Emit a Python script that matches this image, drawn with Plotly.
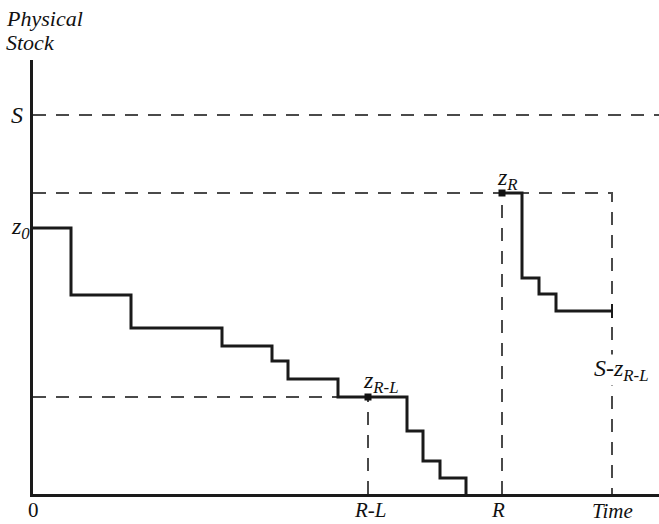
import plotly.graph_objects as go

# ---- data (time units from origin, stock units above the time axis) ----
TIME_A = [0, 38, 98, 189, 239, 255, 305, 374, 390, 407, 433]
STOCK_A = [266, 199, 166, 148, 133, 115, 97, 63, 33, 16, 0]
TIME_B = [469, 489, 506, 523, 579]
STOCK_B = [301, 216, 200, 183, 183]

S_LEVEL = 379
Z_R = 301
Z_RL = 97
T_RL = 335
T_R = 469
T_END = 579
X_MAX = 626
Y_MAX = 434

DASH_COLOR = "#4a4a4a"
LINE_COLOR = "#1a1a1a"
DASH = "13px,10px"
FONT = "'Liberation Serif', 'Times New Roman', Times, serif"

fig = go.Figure()

def dashed(xs, ys):
    fig.add_trace(go.Scatter(x=xs, y=ys, mode="lines", hoverinfo="skip",
                             line=dict(color=DASH_COLOR, width=2, dash=DASH),
                             showlegend=False, cliponaxis=False))

# dashed guide lines
dashed([0, X_MAX], [S_LEVEL, S_LEVEL])
dashed([0, T_END, T_END], [Z_R, Z_R, 0])
dashed([0, T_RL], [Z_RL, Z_RL])
dashed([T_RL, T_RL], [0, Z_RL])
dashed([T_R, T_R], [0, Z_R])

# stock step lines
fig.add_trace(go.Scatter(x=TIME_A, y=STOCK_A, mode="lines", line_shape="hv",
                         line=dict(color=LINE_COLOR, width=3), showlegend=False,
                         hoverinfo="skip", cliponaxis=False))
fig.add_trace(go.Scatter(x=TIME_B, y=STOCK_B, mode="lines", line_shape="hv",
                         line=dict(color=LINE_COLOR, width=3), showlegend=False,
                         hoverinfo="skip", cliponaxis=False))
# end tick
fig.add_trace(go.Scatter(x=[T_END, T_END], y=[STOCK_B[-1] - 7, STOCK_B[-1] + 7],
                         mode="lines", line=dict(color=LINE_COLOR, width=2),
                         showlegend=False, hoverinfo="skip"))
# markers
fig.add_trace(go.Scatter(x=[T_RL, T_R], y=[Z_RL, Z_R], mode="markers",
                         marker=dict(symbol="square", size=7, color="#111111"),
                         showlegend=False, hoverinfo="skip", cliponaxis=False))

def label(text, x, y, size=20, xanchor="center", yanchor="middle", bg=None):
    # positions given in data units, placed via paper coordinates so that
    # labels outside the axis ranges stay visible
    fig.add_annotation(x=x / X_MAX, y=y / Y_MAX, xref="paper", yref="paper",
                       text=text, showarrow=False,
                       xanchor=xanchor, yanchor=yanchor,
                       font=dict(family=FONT, size=size, color="#111111"),
                       bgcolor=bg, borderpad=0)

label("<i>Physical</i>", -28, 476, size=22, xanchor="left")
label("<i>Stock</i>", -28, 452, size=22, xanchor="left")
label("<i>S</i>", -9, S_LEVEL, size=24, xanchor="right")
label("<i>z<sub>0</sub></i>", -2, 266, size=24, xanchor="right")
label("<i>z<sub>R</sub></i>", 474, 315, size=24)
label("<i>z<sub>R-L</sub></i>", 348, 112, size=24)
label("<i>S-z<sub>R-L</sub></i>", 588, 124, size=24, bg="white")
label("0", 0, -29, size=21, yanchor="bottom")
label("<i>R-L</i>", 337, -29, size=21, yanchor="bottom")
label("<i>R</i>", 465, -29, size=21, yanchor="bottom")
label("<i>Time</i>", 579, -30, size=21, yanchor="bottom")

fig.update_layout(
    width=659, height=524,
    margin=dict(l=33, r=0, t=60, b=30),
    paper_bgcolor="white", plot_bgcolor="white",
    hovermode=False,
    xaxis=dict(range=[0, X_MAX], showgrid=False, zeroline=False, showticklabels=False,
               ticks="", showline=True, linecolor=LINE_COLOR, linewidth=3, fixedrange=True),
    yaxis=dict(range=[0, Y_MAX], showgrid=False, zeroline=False, showticklabels=False,
               ticks="", showline=True, linecolor=LINE_COLOR, linewidth=3, fixedrange=True),
)

# remove the default page margin so the figure fills the window exactly
fig.write_html("out.html",
               config={"displayModeBar": False, "staticPlot": True},
               post_script="document.body.style.margin='0';document.body.style.overflow='hidden';")
